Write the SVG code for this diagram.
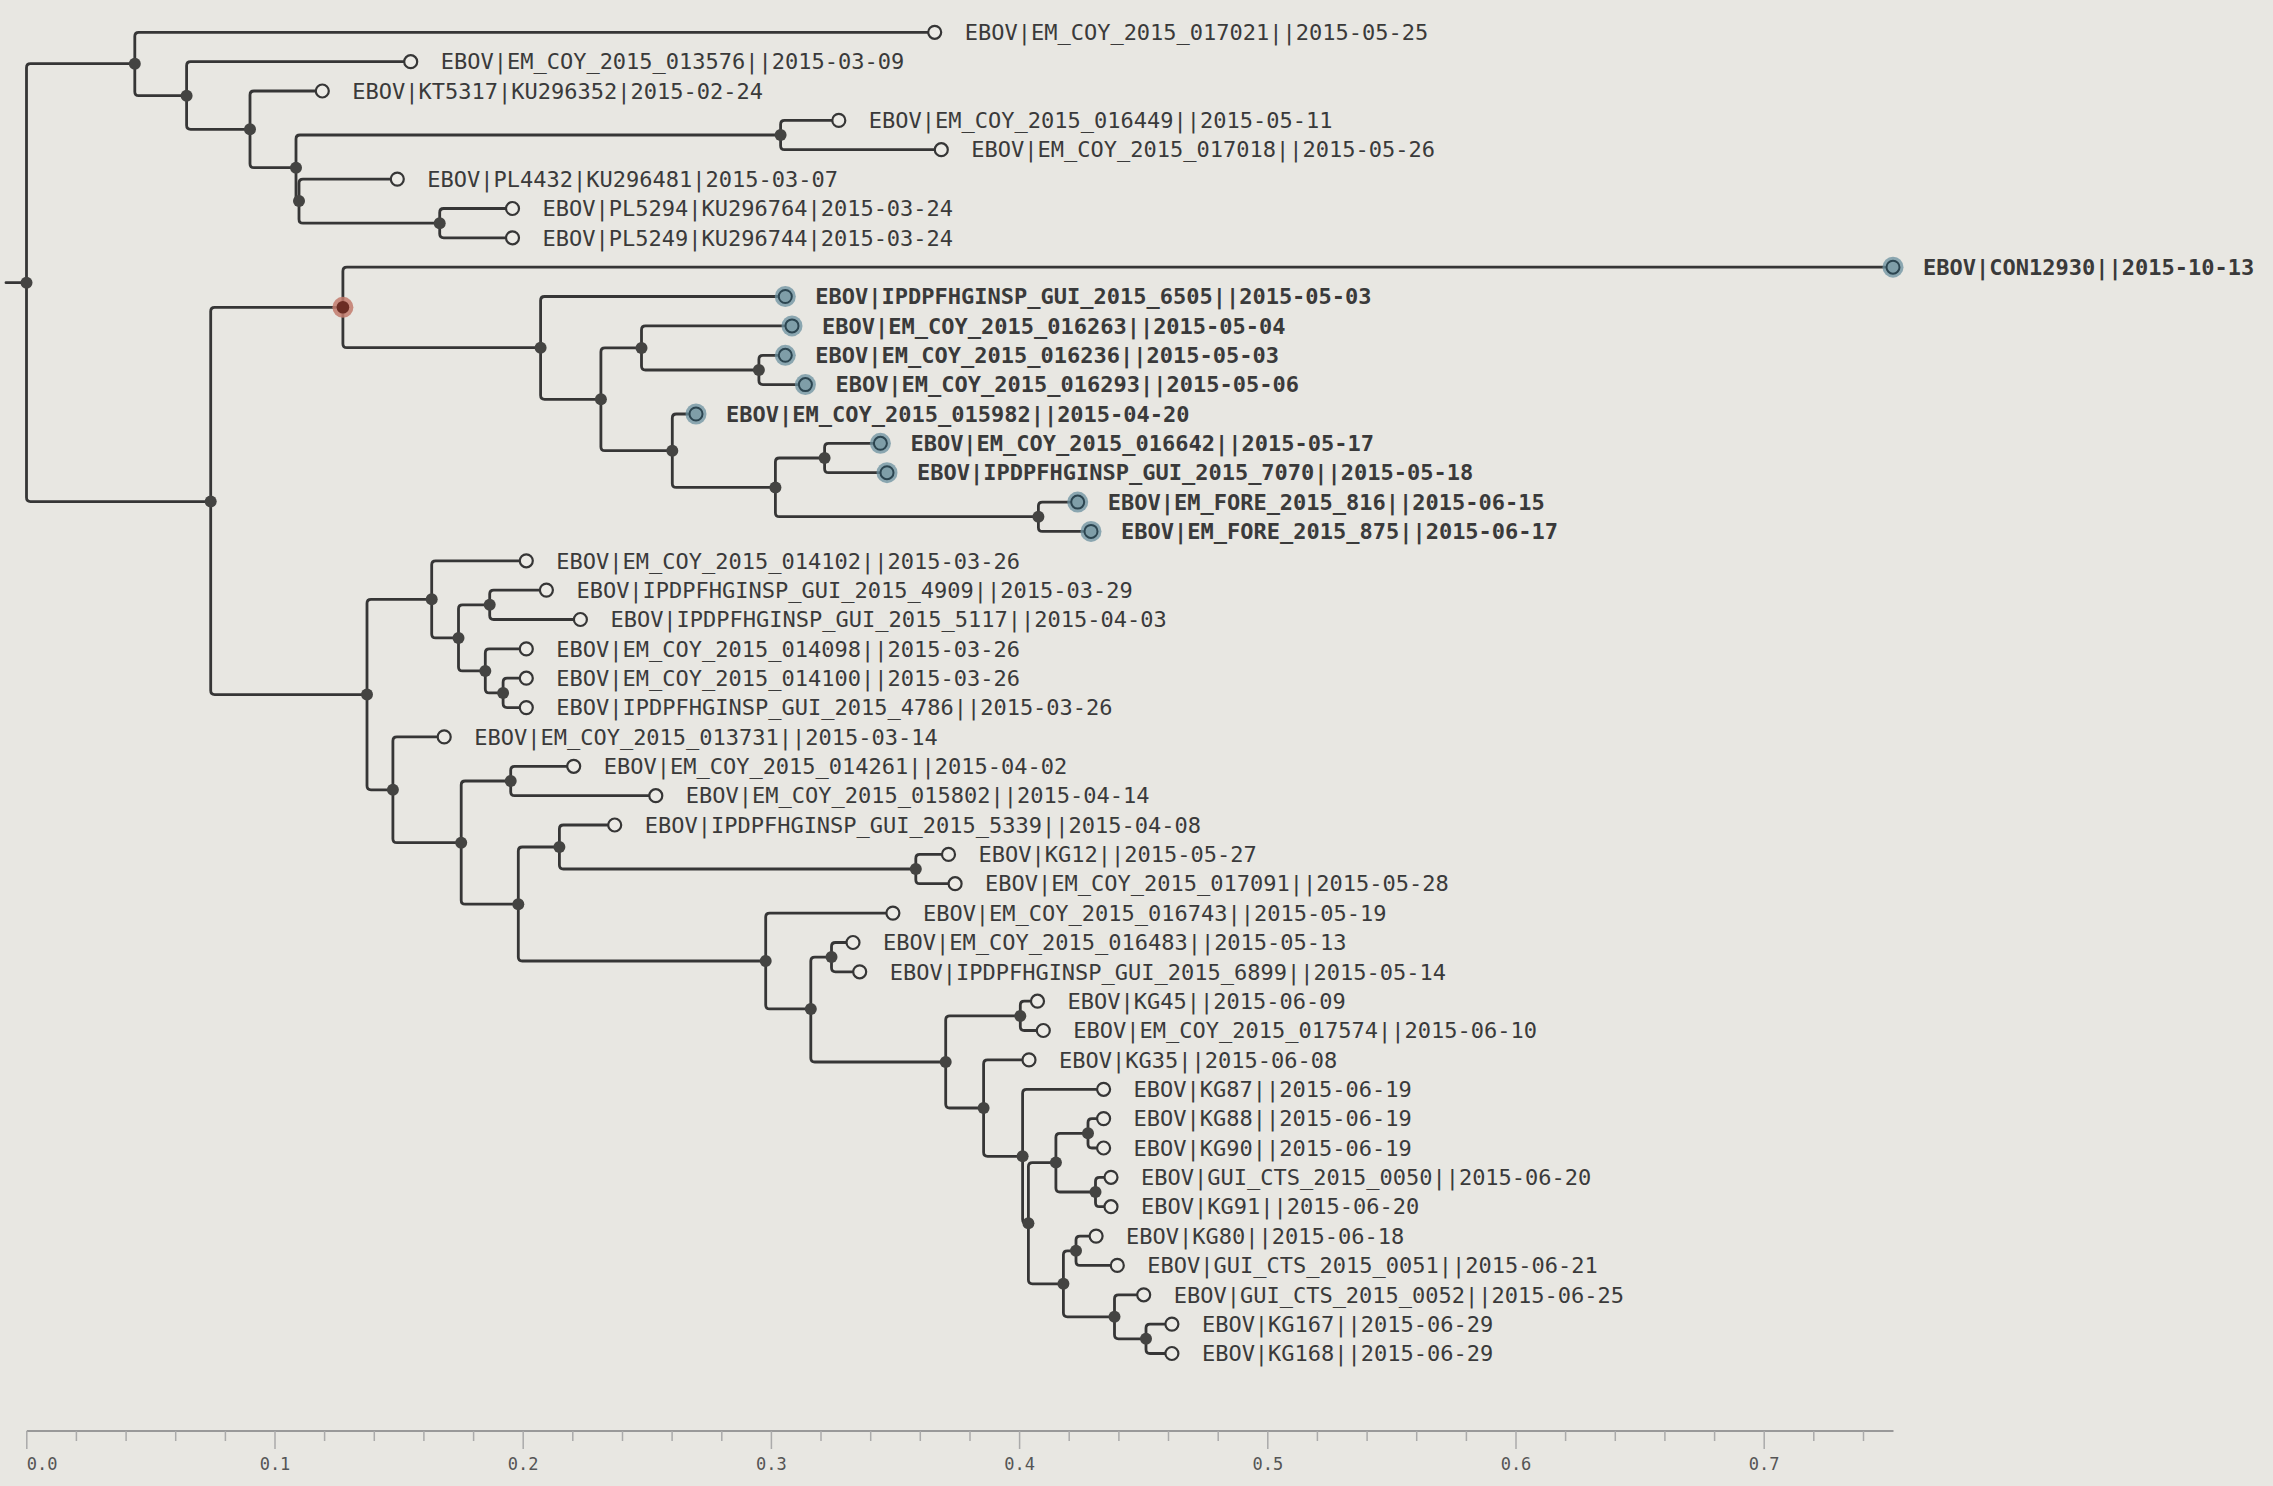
<svg xmlns="http://www.w3.org/2000/svg" width="2273" height="1486" viewBox="0 0 2273 1486">
<style>
.bg{fill:#e8e7e2}
.link{fill:none;stroke:#363636;stroke-width:2.8;stroke-linecap:round}
.inode{fill:#444442}
.leaf{fill:#ecebe6;stroke:#363636;stroke-width:2.2}
.hl-halo{fill:#6b909f;opacity:0.75}
.hl{fill:#7f9ea8;stroke:#2c4550;stroke-width:2}
.red-halo{fill:#c27a6c;opacity:0.85}
.red{fill:#6b2d24}
.lbl{font-family:"DejaVu Sans Mono",monospace;font-size:22px;fill:#3a3a3a}
.b{font-weight:bold}
.axis{stroke:#999;stroke-width:2;fill:none}
.tick{stroke:#aaa;stroke-width:1.5}
.ticklbl{font-family:"DejaVu Sans Mono",monospace;font-size:17px;fill:#555}
</style>
<rect class="bg" x="0" y="0" width="2273" height="1486"/>
<g id="connectors">
<path class="link" d="M6,282.7H26.5"/>
<path class="link" d="M26.5,282.7V67.7Q26.5,63.7 30.5,63.7H134.8"/>
<path class="link" d="M26.5,282.7V497.6Q26.5,501.6 30.5,501.6H210.7"/>
<path class="link" d="M134.8,63.7V36.3Q134.8,32.3 138.8,32.3H934.7"/>
<path class="link" d="M134.8,63.7V91.7Q134.8,95.7 138.8,95.7H186.6"/>
<path class="link" d="M186.6,95.7V65.7Q186.6,61.7 190.6,61.7H410.7"/>
<path class="link" d="M186.6,95.7V125.3Q186.6,129.3 190.6,129.3H250"/>
<path class="link" d="M250,129.3V95Q250,91 254,91H322.3"/>
<path class="link" d="M250,129.3V163.7Q250,167.7 254,167.7H296"/>
<path class="link" d="M296,167.7V139Q296,135 300,135H780.6"/>
<path class="link" d="M296,167.7V198.1Q296,201.1 299,201.1"/>
<path class="link" d="M780.6,135V124.4Q780.6,120.4 784.6,120.4H838.8"/>
<path class="link" d="M780.6,135V145.7Q780.6,149.7 784.6,149.7H941.3"/>
<path class="link" d="M299,201.1V183.1Q299,179.1 303,179.1H397.3"/>
<path class="link" d="M299,201.1V219.2Q299,223.2 303,223.2H439.7"/>
<path class="link" d="M439.7,223.2V212.5Q439.7,208.5 443.7,208.5H512.5"/>
<path class="link" d="M439.7,223.2V233.8Q439.7,237.8 443.7,237.8H512.5"/>
<path class="link" d="M210.7,501.6V311.3Q210.7,307.3 214.7,307.3H342.9"/>
<path class="link" d="M210.7,501.6V690.6Q210.7,694.6 214.7,694.6H367"/>
<path class="link" d="M342.9,307.3V271.2Q342.9,267.2 346.9,267.2H1893"/>
<path class="link" d="M342.9,307.3V343.7Q342.9,347.7 346.9,347.7H540.6"/>
<path class="link" d="M540.6,347.7V300.5Q540.6,296.5 544.6,296.5H785.3"/>
<path class="link" d="M540.6,347.7V395.3Q540.6,399.3 544.6,399.3H600.9"/>
<path class="link" d="M600.9,399.3V351.9Q600.9,347.9 604.9,347.9H641.5"/>
<path class="link" d="M600.9,399.3V446.7Q600.9,450.7 604.9,450.7H672.3"/>
<path class="link" d="M641.5,347.9V329.9Q641.5,325.9 645.5,325.9H792"/>
<path class="link" d="M641.5,347.9V366Q641.5,370 645.5,370H758.9"/>
<path class="link" d="M758.9,370V359.3Q758.9,355.3 762.9,355.3H785.3"/>
<path class="link" d="M758.9,370V380.6Q758.9,384.6 762.9,384.6H805.4"/>
<path class="link" d="M672.3,450.7V418Q672.3,414 676.3,414H696"/>
<path class="link" d="M672.3,450.7V483.4Q672.3,487.4 676.3,487.4H775.4"/>
<path class="link" d="M775.4,487.4V462Q775.4,458 779.4,458H824.6"/>
<path class="link" d="M775.4,487.4V512.7Q775.4,516.7 779.4,516.7H1038.4"/>
<path class="link" d="M824.6,458V447.3Q824.6,443.3 828.6,443.3H880.4"/>
<path class="link" d="M824.6,458V468.7Q824.6,472.7 828.6,472.7H887"/>
<path class="link" d="M1038.4,516.7V506.1Q1038.4,502.1 1042.4,502.1H1077.7"/>
<path class="link" d="M1038.4,516.7V527.4Q1038.4,531.4 1042.4,531.4H1091"/>
<path class="link" d="M367,694.6V603.3Q367,599.3 371,599.3H431.7"/>
<path class="link" d="M367,694.6V785.8Q367,789.8 371,789.8H392.9"/>
<path class="link" d="M431.7,599.3V564.8Q431.7,560.8 435.7,560.8H526.3"/>
<path class="link" d="M431.7,599.3V633.9Q431.7,637.9 435.7,637.9H458.5"/>
<path class="link" d="M458.5,637.9V608.8Q458.5,604.8 462.5,604.8H489.7"/>
<path class="link" d="M458.5,637.9V666.9Q458.5,670.9 462.5,670.9H485.3"/>
<path class="link" d="M489.7,604.8V594.1Q489.7,590.1 493.7,590.1H546.4"/>
<path class="link" d="M489.7,604.8V615.5Q489.7,619.5 493.7,619.5H580.4"/>
<path class="link" d="M485.3,670.9V652.9Q485.3,648.9 489.3,648.9H526.3"/>
<path class="link" d="M485.3,670.9V688.9Q485.3,692.9 489.3,692.9H503.1"/>
<path class="link" d="M503.1,692.9V682.2Q503.1,678.2 507.1,678.2H526.3"/>
<path class="link" d="M503.1,692.9V703.6Q503.1,707.6 507.1,707.6H526.3"/>
<path class="link" d="M392.9,789.8V740.9Q392.9,736.9 396.9,736.9H444.2"/>
<path class="link" d="M392.9,789.8V838.7Q392.9,842.7 396.9,842.7H461.2"/>
<path class="link" d="M461.2,842.7V785Q461.2,781 465.2,781H510.7"/>
<path class="link" d="M461.2,842.7V900.2Q461.2,904.2 465.2,904.2H518.3"/>
<path class="link" d="M510.7,781V770.3Q510.7,766.3 514.7,766.3H573.7"/>
<path class="link" d="M510.7,781V791.7Q510.7,795.7 514.7,795.7H655.8"/>
<path class="link" d="M518.3,904.2V851Q518.3,847 522.3,847H559.4"/>
<path class="link" d="M518.3,904.2V957Q518.3,961 522.3,961H765.7"/>
<path class="link" d="M559.4,847V829Q559.4,825 563.4,825H614.7"/>
<path class="link" d="M559.4,847V865Q559.4,869 563.4,869H915.8"/>
<path class="link" d="M915.8,869V858.4Q915.8,854.4 919.8,854.4H948.5"/>
<path class="link" d="M915.8,869V879.7Q915.8,883.7 919.8,883.7H955.1"/>
<path class="link" d="M765.7,961V917.1Q765.7,913.1 769.7,913.1H892.9"/>
<path class="link" d="M765.7,961V1004.9Q765.7,1008.9 769.7,1008.9H810.8"/>
<path class="link" d="M810.8,1008.9V961.1Q810.8,957.1 814.8,957.1H831.5"/>
<path class="link" d="M810.8,1008.9V1058Q810.8,1062 814.8,1062H945.7"/>
<path class="link" d="M831.5,957.1V946.5Q831.5,942.5 835.5,942.5H853"/>
<path class="link" d="M831.5,957.1V967.8Q831.5,971.8 835.5,971.8H859.7"/>
<path class="link" d="M945.7,1062V1019.9Q945.7,1015.9 949.7,1015.9H1020.3"/>
<path class="link" d="M945.7,1062V1104Q945.7,1108 949.7,1108H983.6"/>
<path class="link" d="M1020.3,1015.9V1005.2Q1020.3,1001.2 1024.3,1001.2H1037.5"/>
<path class="link" d="M1020.3,1015.9V1026.5Q1020.3,1030.5 1024.3,1030.5H1043.3"/>
<path class="link" d="M983.6,1108V1063.9Q983.6,1059.9 987.6,1059.9H1029"/>
<path class="link" d="M983.6,1108V1152.3Q983.6,1156.3 987.6,1156.3H1022.6"/>
<path class="link" d="M1022.6,1156.3V1093.3Q1022.6,1089.3 1026.6,1089.3H1103.6"/>
<path class="link" d="M1022.6,1156.3V1219.2Q1022.6,1223.2 1026.6,1223.2H1028.4"/>
<path class="link" d="M1028.4,1223.2V1166.6Q1028.4,1162.6 1032.4,1162.6H1055.9"/>
<path class="link" d="M1028.4,1223.2V1279.8Q1028.4,1283.8 1032.4,1283.8H1063.4"/>
<path class="link" d="M1055.9,1162.6V1137.3Q1055.9,1133.3 1059.9,1133.3H1088"/>
<path class="link" d="M1055.9,1162.6V1188Q1055.9,1192 1059.9,1192H1095.5"/>
<path class="link" d="M1088,1133.3V1122.6Q1088,1118.6 1092,1118.6H1103.6"/>
<path class="link" d="M1088,1133.3V1144Q1088,1148 1092,1148H1103.6"/>
<path class="link" d="M1095.5,1192V1181.3Q1095.5,1177.3 1099.5,1177.3H1111"/>
<path class="link" d="M1095.5,1192V1202.7Q1095.5,1206.7 1099.5,1206.7H1111"/>
<path class="link" d="M1063.4,1283.8V1254.8Q1063.4,1250.8 1067.4,1250.8H1076"/>
<path class="link" d="M1063.4,1283.8V1312.8Q1063.4,1316.8 1067.4,1316.8H1114.5"/>
<path class="link" d="M1076,1250.8V1240.1Q1076,1236.1 1080,1236.1H1096.1"/>
<path class="link" d="M1076,1250.8V1261.4Q1076,1265.4 1080,1265.4H1117.3"/>
<path class="link" d="M1114.5,1316.8V1298.8Q1114.5,1294.8 1118.5,1294.8H1143.7"/>
<path class="link" d="M1114.5,1316.8V1334.8Q1114.5,1338.8 1118.5,1338.8H1146"/>
<path class="link" d="M1146,1338.8V1328.1Q1146,1324.1 1150,1324.1H1171.9"/>
<path class="link" d="M1146,1338.8V1349.5Q1146,1353.5 1150,1353.5H1171.9"/>
</g>
<g id="internal-nodes">
<g id="n-root"><circle class="inode" cx="26.5" cy="282.7" r="6"/></g>
<g id="n-A"><circle class="inode" cx="134.8" cy="63.7" r="6"/></g>
<g id="n-B"><circle class="inode" cx="186.6" cy="95.7" r="6"/></g>
<g id="n-C"><circle class="inode" cx="250" cy="129.3" r="6"/></g>
<g id="n-D"><circle class="inode" cx="296" cy="167.7" r="6"/></g>
<g id="n-E"><circle class="inode" cx="780.6" cy="135" r="6"/></g>
<g id="n-F"><circle class="inode" cx="299" cy="201.1" r="6"/></g>
<g id="n-G"><circle class="inode" cx="439.7" cy="223.2" r="6"/></g>
<g id="n-H"><circle class="inode" cx="210.7" cy="501.6" r="6"/></g>
<g id="n-I"><circle class="red-halo" cx="342.9" cy="307.3" r="10.5"/><circle class="red" cx="342.9" cy="307.3" r="6.3"/></g>
<g id="n-K"><circle class="inode" cx="540.6" cy="347.7" r="6"/></g>
<g id="n-L"><circle class="inode" cx="600.9" cy="399.3" r="6"/></g>
<g id="n-M"><circle class="inode" cx="641.5" cy="347.9" r="6"/></g>
<g id="n-O"><circle class="inode" cx="758.9" cy="370" r="6"/></g>
<g id="n-N"><circle class="inode" cx="672.3" cy="450.7" r="6"/></g>
<g id="n-P"><circle class="inode" cx="775.4" cy="487.4" r="6"/></g>
<g id="n-Q"><circle class="inode" cx="824.6" cy="458" r="6"/></g>
<g id="n-R"><circle class="inode" cx="1038.4" cy="516.7" r="6"/></g>
<g id="n-J"><circle class="inode" cx="367" cy="694.6" r="6"/></g>
<g id="n-S"><circle class="inode" cx="431.7" cy="599.3" r="6"/></g>
<g id="n-T"><circle class="inode" cx="458.5" cy="637.9" r="6"/></g>
<g id="n-U"><circle class="inode" cx="489.7" cy="604.8" r="6"/></g>
<g id="n-V"><circle class="inode" cx="485.3" cy="670.9" r="6"/></g>
<g id="n-W"><circle class="inode" cx="503.1" cy="692.9" r="6"/></g>
<g id="n-X"><circle class="inode" cx="392.9" cy="789.8" r="6"/></g>
<g id="n-Y"><circle class="inode" cx="461.2" cy="842.7" r="6"/></g>
<g id="n-Z"><circle class="inode" cx="510.7" cy="781" r="6"/></g>
<g id="n-AA"><circle class="inode" cx="518.3" cy="904.2" r="6"/></g>
<g id="n-AB"><circle class="inode" cx="559.4" cy="847" r="6"/></g>
<g id="n-AD"><circle class="inode" cx="915.8" cy="869" r="6"/></g>
<g id="n-AC"><circle class="inode" cx="765.7" cy="961" r="6"/></g>
<g id="n-AE"><circle class="inode" cx="810.8" cy="1008.9" r="6"/></g>
<g id="n-AF"><circle class="inode" cx="831.5" cy="957.1" r="6"/></g>
<g id="n-AG"><circle class="inode" cx="945.7" cy="1062" r="6"/></g>
<g id="n-AH"><circle class="inode" cx="1020.3" cy="1015.9" r="6"/></g>
<g id="n-AI"><circle class="inode" cx="983.6" cy="1108" r="6"/></g>
<g id="n-AJ"><circle class="inode" cx="1022.6" cy="1156.3" r="6"/></g>
<g id="n-AL"><circle class="inode" cx="1028.4" cy="1223.2" r="6"/></g>
<g id="n-AK"><circle class="inode" cx="1055.9" cy="1162.6" r="6"/></g>
<g id="n-AM"><circle class="inode" cx="1088" cy="1133.3" r="6"/></g>
<g id="n-AN"><circle class="inode" cx="1095.5" cy="1192" r="6"/></g>
<g id="n-AR"><circle class="inode" cx="1063.4" cy="1283.8" r="6"/></g>
<g id="n-AO"><circle class="inode" cx="1076" cy="1250.8" r="6"/></g>
<g id="n-AQ"><circle class="inode" cx="1114.5" cy="1316.8" r="6"/></g>
<g id="n-AP"><circle class="inode" cx="1146" cy="1338.8" r="6"/></g>
</g>
<g id="leaves">
<g id="leaf-0"><circle class="leaf" cx="934.7" cy="32.3" r="6.5"/><text class="lbl" x="964.7" y="32.3" dy="0.35em">EBOV|EM_COY_2015_017021||2015-05-25</text></g>
<g id="leaf-1"><circle class="leaf" cx="410.7" cy="61.7" r="6.5"/><text class="lbl" x="440.7" y="61.7" dy="0.35em">EBOV|EM_COY_2015_013576||2015-03-09</text></g>
<g id="leaf-2"><circle class="leaf" cx="322.3" cy="91" r="6.5"/><text class="lbl" x="352.3" y="91" dy="0.35em">EBOV|KT5317|KU296352|2015-02-24</text></g>
<g id="leaf-3"><circle class="leaf" cx="838.8" cy="120.4" r="6.5"/><text class="lbl" x="868.8" y="120.4" dy="0.35em">EBOV|EM_COY_2015_016449||2015-05-11</text></g>
<g id="leaf-4"><circle class="leaf" cx="941.3" cy="149.7" r="6.5"/><text class="lbl" x="971.3" y="149.7" dy="0.35em">EBOV|EM_COY_2015_017018||2015-05-26</text></g>
<g id="leaf-5"><circle class="leaf" cx="397.3" cy="179.1" r="6.5"/><text class="lbl" x="427.3" y="179.1" dy="0.35em">EBOV|PL4432|KU296481|2015-03-07</text></g>
<g id="leaf-6"><circle class="leaf" cx="512.5" cy="208.5" r="6.5"/><text class="lbl" x="542.5" y="208.5" dy="0.35em">EBOV|PL5294|KU296764|2015-03-24</text></g>
<g id="leaf-7"><circle class="leaf" cx="512.5" cy="237.8" r="6.5"/><text class="lbl" x="542.5" y="237.8" dy="0.35em">EBOV|PL5249|KU296744|2015-03-24</text></g>
<g id="leaf-8"><circle class="hl-halo" cx="1893" cy="267.2" r="10.5"/><circle class="hl" cx="1893" cy="267.2" r="6.5"/><text class="lbl b" x="1923" y="267.2" dy="0.35em">EBOV|CON12930||2015-10-13</text></g>
<g id="leaf-9"><circle class="hl-halo" cx="785.3" cy="296.5" r="10.5"/><circle class="hl" cx="785.3" cy="296.5" r="6.5"/><text class="lbl b" x="815.3" y="296.5" dy="0.35em">EBOV|IPDPFHGINSP_GUI_2015_6505||2015-05-03</text></g>
<g id="leaf-10"><circle class="hl-halo" cx="792" cy="325.9" r="10.5"/><circle class="hl" cx="792" cy="325.9" r="6.5"/><text class="lbl b" x="822" y="325.9" dy="0.35em">EBOV|EM_COY_2015_016263||2015-05-04</text></g>
<g id="leaf-11"><circle class="hl-halo" cx="785.3" cy="355.3" r="10.5"/><circle class="hl" cx="785.3" cy="355.3" r="6.5"/><text class="lbl b" x="815.3" y="355.3" dy="0.35em">EBOV|EM_COY_2015_016236||2015-05-03</text></g>
<g id="leaf-12"><circle class="hl-halo" cx="805.4" cy="384.6" r="10.5"/><circle class="hl" cx="805.4" cy="384.6" r="6.5"/><text class="lbl b" x="835.4" y="384.6" dy="0.35em">EBOV|EM_COY_2015_016293||2015-05-06</text></g>
<g id="leaf-13"><circle class="hl-halo" cx="696" cy="414" r="10.5"/><circle class="hl" cx="696" cy="414" r="6.5"/><text class="lbl b" x="726" y="414" dy="0.35em">EBOV|EM_COY_2015_015982||2015-04-20</text></g>
<g id="leaf-14"><circle class="hl-halo" cx="880.4" cy="443.3" r="10.5"/><circle class="hl" cx="880.4" cy="443.3" r="6.5"/><text class="lbl b" x="910.4" y="443.3" dy="0.35em">EBOV|EM_COY_2015_016642||2015-05-17</text></g>
<g id="leaf-15"><circle class="hl-halo" cx="887" cy="472.7" r="10.5"/><circle class="hl" cx="887" cy="472.7" r="6.5"/><text class="lbl b" x="917" y="472.7" dy="0.35em">EBOV|IPDPFHGINSP_GUI_2015_7070||2015-05-18</text></g>
<g id="leaf-16"><circle class="hl-halo" cx="1077.7" cy="502.1" r="10.5"/><circle class="hl" cx="1077.7" cy="502.1" r="6.5"/><text class="lbl b" x="1107.7" y="502.1" dy="0.35em">EBOV|EM_FORE_2015_816||2015-06-15</text></g>
<g id="leaf-17"><circle class="hl-halo" cx="1091" cy="531.4" r="10.5"/><circle class="hl" cx="1091" cy="531.4" r="6.5"/><text class="lbl b" x="1121" y="531.4" dy="0.35em">EBOV|EM_FORE_2015_875||2015-06-17</text></g>
<g id="leaf-18"><circle class="leaf" cx="526.3" cy="560.8" r="6.5"/><text class="lbl" x="556.3" y="560.8" dy="0.35em">EBOV|EM_COY_2015_014102||2015-03-26</text></g>
<g id="leaf-19"><circle class="leaf" cx="546.4" cy="590.1" r="6.5"/><text class="lbl" x="576.4" y="590.1" dy="0.35em">EBOV|IPDPFHGINSP_GUI_2015_4909||2015-03-29</text></g>
<g id="leaf-20"><circle class="leaf" cx="580.4" cy="619.5" r="6.5"/><text class="lbl" x="610.4" y="619.5" dy="0.35em">EBOV|IPDPFHGINSP_GUI_2015_5117||2015-04-03</text></g>
<g id="leaf-21"><circle class="leaf" cx="526.3" cy="648.9" r="6.5"/><text class="lbl" x="556.3" y="648.9" dy="0.35em">EBOV|EM_COY_2015_014098||2015-03-26</text></g>
<g id="leaf-22"><circle class="leaf" cx="526.3" cy="678.2" r="6.5"/><text class="lbl" x="556.3" y="678.2" dy="0.35em">EBOV|EM_COY_2015_014100||2015-03-26</text></g>
<g id="leaf-23"><circle class="leaf" cx="526.3" cy="707.6" r="6.5"/><text class="lbl" x="556.3" y="707.6" dy="0.35em">EBOV|IPDPFHGINSP_GUI_2015_4786||2015-03-26</text></g>
<g id="leaf-24"><circle class="leaf" cx="444.2" cy="736.9" r="6.5"/><text class="lbl" x="474.2" y="736.9" dy="0.35em">EBOV|EM_COY_2015_013731||2015-03-14</text></g>
<g id="leaf-25"><circle class="leaf" cx="573.7" cy="766.3" r="6.5"/><text class="lbl" x="603.7" y="766.3" dy="0.35em">EBOV|EM_COY_2015_014261||2015-04-02</text></g>
<g id="leaf-26"><circle class="leaf" cx="655.8" cy="795.7" r="6.5"/><text class="lbl" x="685.8" y="795.7" dy="0.35em">EBOV|EM_COY_2015_015802||2015-04-14</text></g>
<g id="leaf-27"><circle class="leaf" cx="614.7" cy="825" r="6.5"/><text class="lbl" x="644.7" y="825" dy="0.35em">EBOV|IPDPFHGINSP_GUI_2015_5339||2015-04-08</text></g>
<g id="leaf-28"><circle class="leaf" cx="948.5" cy="854.4" r="6.5"/><text class="lbl" x="978.5" y="854.4" dy="0.35em">EBOV|KG12||2015-05-27</text></g>
<g id="leaf-29"><circle class="leaf" cx="955.1" cy="883.7" r="6.5"/><text class="lbl" x="985.1" y="883.7" dy="0.35em">EBOV|EM_COY_2015_017091||2015-05-28</text></g>
<g id="leaf-30"><circle class="leaf" cx="892.9" cy="913.1" r="6.5"/><text class="lbl" x="922.9" y="913.1" dy="0.35em">EBOV|EM_COY_2015_016743||2015-05-19</text></g>
<g id="leaf-31"><circle class="leaf" cx="853" cy="942.5" r="6.5"/><text class="lbl" x="883" y="942.5" dy="0.35em">EBOV|EM_COY_2015_016483||2015-05-13</text></g>
<g id="leaf-32"><circle class="leaf" cx="859.7" cy="971.8" r="6.5"/><text class="lbl" x="889.7" y="971.8" dy="0.35em">EBOV|IPDPFHGINSP_GUI_2015_6899||2015-05-14</text></g>
<g id="leaf-33"><circle class="leaf" cx="1037.5" cy="1001.2" r="6.5"/><text class="lbl" x="1067.5" y="1001.2" dy="0.35em">EBOV|KG45||2015-06-09</text></g>
<g id="leaf-34"><circle class="leaf" cx="1043.3" cy="1030.5" r="6.5"/><text class="lbl" x="1073.3" y="1030.5" dy="0.35em">EBOV|EM_COY_2015_017574||2015-06-10</text></g>
<g id="leaf-35"><circle class="leaf" cx="1029" cy="1059.9" r="6.5"/><text class="lbl" x="1059" y="1059.9" dy="0.35em">EBOV|KG35||2015-06-08</text></g>
<g id="leaf-36"><circle class="leaf" cx="1103.6" cy="1089.3" r="6.5"/><text class="lbl" x="1133.6" y="1089.3" dy="0.35em">EBOV|KG87||2015-06-19</text></g>
<g id="leaf-37"><circle class="leaf" cx="1103.6" cy="1118.6" r="6.5"/><text class="lbl" x="1133.6" y="1118.6" dy="0.35em">EBOV|KG88||2015-06-19</text></g>
<g id="leaf-38"><circle class="leaf" cx="1103.6" cy="1148" r="6.5"/><text class="lbl" x="1133.6" y="1148" dy="0.35em">EBOV|KG90||2015-06-19</text></g>
<g id="leaf-39"><circle class="leaf" cx="1111" cy="1177.3" r="6.5"/><text class="lbl" x="1141" y="1177.3" dy="0.35em">EBOV|GUI_CTS_2015_0050||2015-06-20</text></g>
<g id="leaf-40"><circle class="leaf" cx="1111" cy="1206.7" r="6.5"/><text class="lbl" x="1141" y="1206.7" dy="0.35em">EBOV|KG91||2015-06-20</text></g>
<g id="leaf-41"><circle class="leaf" cx="1096.1" cy="1236.1" r="6.5"/><text class="lbl" x="1126.1" y="1236.1" dy="0.35em">EBOV|KG80||2015-06-18</text></g>
<g id="leaf-42"><circle class="leaf" cx="1117.3" cy="1265.4" r="6.5"/><text class="lbl" x="1147.3" y="1265.4" dy="0.35em">EBOV|GUI_CTS_2015_0051||2015-06-21</text></g>
<g id="leaf-43"><circle class="leaf" cx="1143.7" cy="1294.8" r="6.5"/><text class="lbl" x="1173.7" y="1294.8" dy="0.35em">EBOV|GUI_CTS_2015_0052||2015-06-25</text></g>
<g id="leaf-44"><circle class="leaf" cx="1171.9" cy="1324.1" r="6.5"/><text class="lbl" x="1201.9" y="1324.1" dy="0.35em">EBOV|KG167||2015-06-29</text></g>
<g id="leaf-45"><circle class="leaf" cx="1171.9" cy="1353.5" r="6.5"/><text class="lbl" x="1201.9" y="1353.5" dy="0.35em">EBOV|KG168||2015-06-29</text></g>
</g>
<g id="axis">
<path class="axis" d="M26.8,1431H1893.5"/>
<path class="tick" d="M26.8,1431V1449M275,1431V1449M523.2,1431V1449M771.4,1431V1449M1019.6,1431V1449M1267.8,1431V1449M1516,1431V1449M1764.2,1431V1449"/>
<path class="tick" d="M76.4,1431V1441M126.1,1431V1441M175.7,1431V1441M225.4,1431V1441M324.6,1431V1441M374.3,1431V1441M423.9,1431V1441M473.6,1431V1441M572.8,1431V1441M622.5,1431V1441M672.1,1431V1441M721.8,1431V1441M821,1431V1441M870.7,1431V1441M920.3,1431V1441M970,1431V1441M1069.2,1431V1441M1118.9,1431V1441M1168.5,1431V1441M1218.2,1431V1441M1317.4,1431V1441M1367.1,1431V1441M1416.7,1431V1441M1466.4,1431V1441M1565.6,1431V1441M1615.3,1431V1441M1664.9,1431V1441M1714.6,1431V1441M1813.8,1431V1441M1863.5,1431V1441"/>
<text class="ticklbl" x="26.8" y="1470">0.0</text>
<text class="ticklbl" x="275" y="1470" text-anchor="middle">0.1</text>
<text class="ticklbl" x="523.2" y="1470" text-anchor="middle">0.2</text>
<text class="ticklbl" x="771.4" y="1470" text-anchor="middle">0.3</text>
<text class="ticklbl" x="1019.6" y="1470" text-anchor="middle">0.4</text>
<text class="ticklbl" x="1267.8" y="1470" text-anchor="middle">0.5</text>
<text class="ticklbl" x="1516" y="1470" text-anchor="middle">0.6</text>
<text class="ticklbl" x="1764.2" y="1470" text-anchor="middle">0.7</text>
</g>
</svg>
